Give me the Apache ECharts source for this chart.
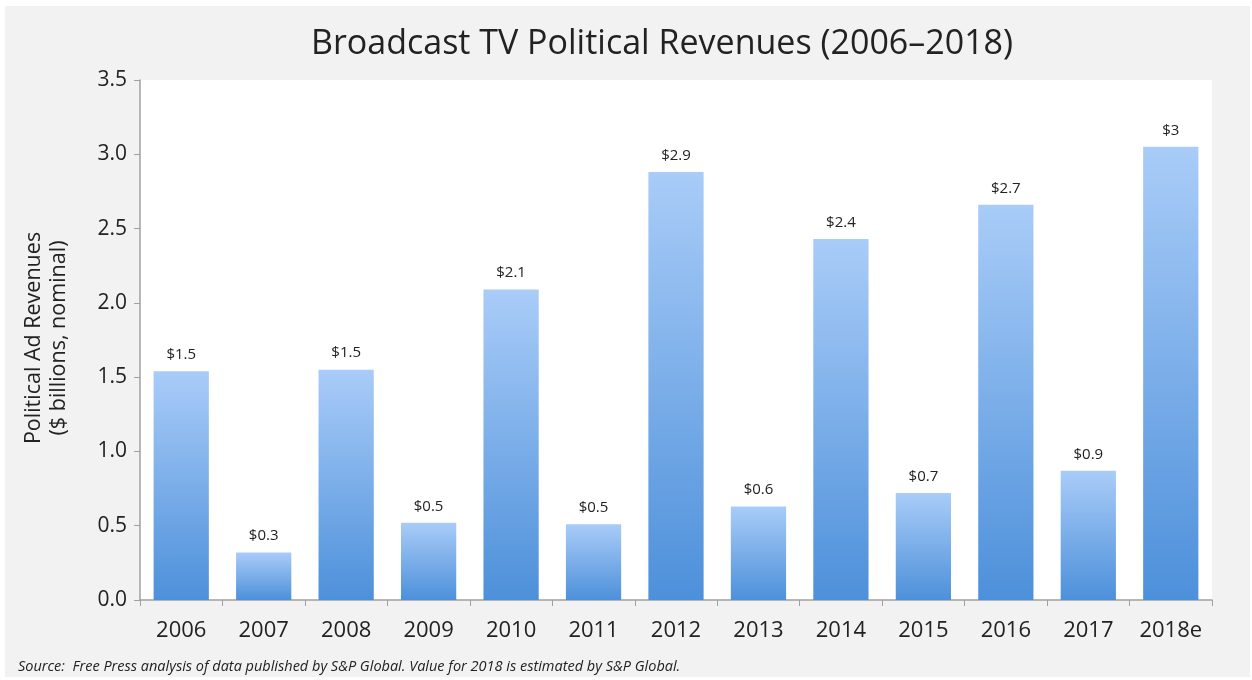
<!DOCTYPE html>
<html><head><meta charset="utf-8">
<script src="https://cdn.jsdelivr.net/npm/echarts@6/dist/echarts.min.js"></script>
<style>html,body{margin:0;padding:0;background:#fff}#c{width:1252px;height:680px}</style>
</head><body><div id="c"></div>
<script>
const categories = ['2006','2007','2008','2009','2010','2011','2012','2013','2014','2015','2016','2017','2018e'];
const revenues = [1.54, 0.32, 1.55, 0.52, 2.09, 0.51, 2.88, 0.63, 2.43, 0.72, 2.66, 0.87, 3.05];
const valueLabels = ['$1.5','$0.3','$1.5','$0.5','$2.1','$0.5','$2.9','$0.6','$2.4','$0.7','$2.7','$0.9','$3'];
const yTicks = {min: 0, max: 3.5, interval: 0.5};

const FONT = '"Open Sans", sans-serif';
const chart = echarts.init(document.getElementById('c'));
chart.setOption({
  animation: false,
  graphic: [
    {type:'rect', shape:{x:5,y:6,width:1245,height:671}, style:{fill:'#f2f2f2'}, z:-10, silent:true},
    {type:'rect', shape:{x:140,y:80,width:1072,height:520}, style:{fill:'#ffffff'}, z:-9, silent:true},
    {type:'text', x:662, y:44, style:{text:'Broadcast TV Political Revenues (2006–2018)', font:'34px ' + FONT, fill:'#222', align:'center', verticalAlign:'middle'}},
    {type:'text', x:18, y:667, style:{text:'Source:  Free Press analysis of data published by S&P Global. Value for 2018 is estimated by S&P Global.', font:'italic 14.5px ' + FONT, fill:'#222', verticalAlign:'middle'}},
    {type:'text', rotation: Math.PI/2, x:46, y:338, style:{text:'Political Ad Revenues\n($ billions, nominal)', font:'21.5px ' + FONT, fill:'#222', align:'center', verticalAlign:'middle', lineHeight:25}}
  ],
  grid: {left: 140, right: 40, top: 80, bottom: 80},
  xAxis: {
    type: 'category', data: categories,
    axisLine: {lineStyle: {color: '#a0a0a0', width: 1.5}},
    axisTick: {show: true, alignWithLabel: false, length: 6, lineStyle: {color: '#a0a0a0'}},
    axisLabel: {fontFamily: FONT, fontSize: 22, color: '#222', margin: 20}
  },
  yAxis: {
    type: 'value', min: yTicks.min, max: yTicks.max, interval: yTicks.interval,
    axisLine: {show: true, lineStyle: {color: '#a0a0a0', width: 1.5}},
    axisTick: {show: true, length: 6, lineStyle: {color: '#a0a0a0'}},
    splitLine: {show: false},
    axisLabel: {fontFamily: FONT, fontSize: 21, color: '#222', margin: 13, formatter: v => v.toFixed(1)}
  },
  series: [{
    type: 'bar', data: revenues, barCategoryGap: '33%',
    itemStyle: {color: new echarts.graphic.LinearGradient(0,0,0,1,[{offset:0,color:'#a9ccf8'},{offset:1,color:'#4d90da'}])},
    label: {show: true, position: 'top', distance: 9, fontFamily: FONT, fontSize: 15, color: '#222',
      formatter: p => valueLabels[p.dataIndex]}
  }]
});
</script></body></html>
